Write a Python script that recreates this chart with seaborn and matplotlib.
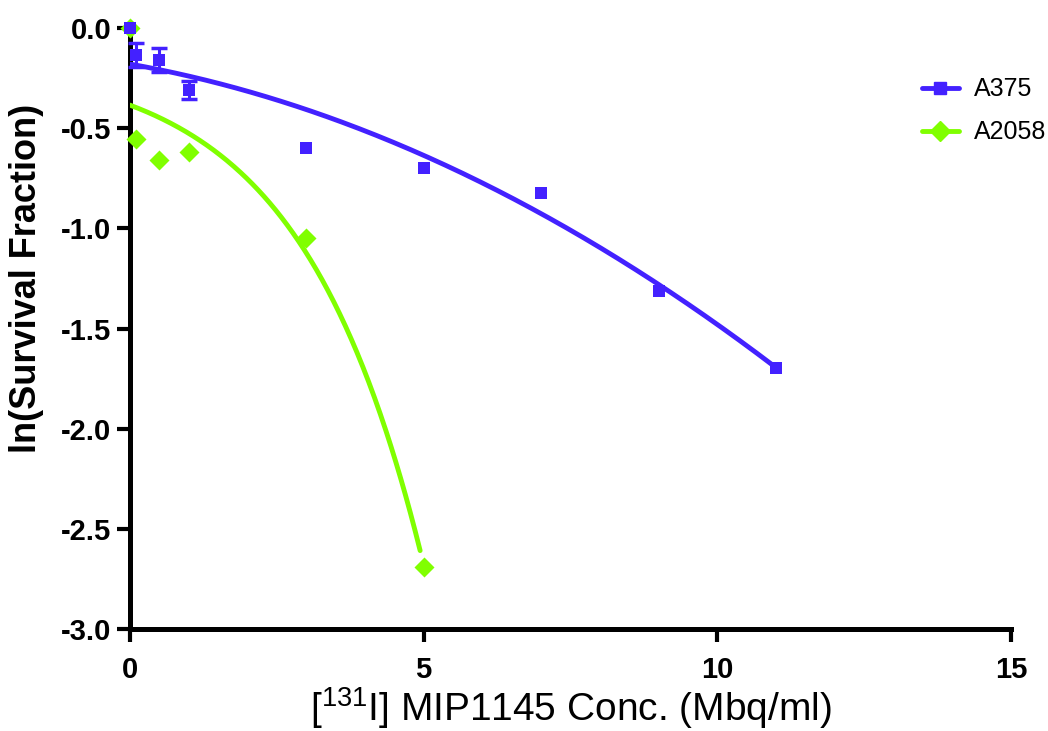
import numpy as np
import matplotlib
matplotlib.use("Agg")
import matplotlib.pyplot as plt
from matplotlib.lines import Line2D
import seaborn as sns

# Measured survival, ln(SF), per cell line
dose_a375 = [0, 0.1, 0.5, 1, 3, 5, 7, 9, 11]
ln_sf_a375 = [0.0, -0.135, -0.16, -0.31, -0.60, -0.70, -0.825, -1.315, -1.695]

# Replicated low-dose points carry error bars
err_dose_a375 = [0.1, 0.5, 1]
err_ln_sf_a375 = [-0.135, -0.16, -0.31]
err_a375 = [0.06, 0.058, 0.043]

dose_a2058 = [0, 0.1, 0.5, 1, 3, 5]
ln_sf_a2058 = [0.0, -0.552, -0.658, -0.619, -1.05, -2.69]

# Fitted model parameters
# A375: ln SF = c - alpha*D - beta*D^2
a375_fit = {"c": -0.18, "alpha": 0.0523, "beta": 0.00777}
# A2058: ln SF = c - k*(exp(r*D) - 1)
a2058_fit = {"c": -0.385, "k": 0.229, "r": 0.48}
a2058_fit_range = (0.0, 4.94)

x_ticks = [0, 5, 10, 15]
y_ticks = [0.0, -0.5, -1.0, -1.5, -2.0, -2.5, -3.0]

BLUE = "#4321FF"
GREEN = "#80FF00"

sns.set_theme(style="ticks")
plt.rcParams["font.family"] = ["Liberation Sans", "DejaVu Sans"]
plt.rcParams["mathtext.fontset"] = "custom"
plt.rcParams["mathtext.rm"] = "Liberation Sans"
plt.rcParams["mathtext.it"] = "Liberation Sans:italic"
plt.rcParams["mathtext.bf"] = "Liberation Sans:bold"
plt.rcParams["text.color"] = "black"
plt.rcParams["axes.labelcolor"] = "black"

fig = plt.figure(figsize=(10.48, 7.31), dpi=100)
ax = fig.add_axes([130 / 1048, 1 - 629 / 731, (1011 - 130) / 1048, (629 - 28) / 731])

# fitted curves
xa = np.linspace(min(dose_a375), max(dose_a375), 300)
ya = a375_fit["c"] - a375_fit["alpha"] * xa - a375_fit["beta"] * xa ** 2
xb = np.linspace(*a2058_fit_range, 300)
yb = a2058_fit["c"] - a2058_fit["k"] * (np.exp(a2058_fit["r"] * xb) - 1)

sns.lineplot(x=xa, y=ya, ax=ax, color=BLUE, lw=3.5, sort=False,
             estimator=None, zorder=3)
sns.lineplot(x=xb, y=yb, ax=ax, color=GREEN, lw=3.5, sort=False,
             estimator=None, zorder=3)

ax.errorbar(err_dose_a375, err_ln_sf_a375, yerr=err_a375, fmt="none",
            ecolor=BLUE, elinewidth=2.2, capsize=6, capthick=2.5, zorder=4,
            clip_on=False)

sns.scatterplot(x=dose_a2058, y=ln_sf_a2058, ax=ax, marker="D", s=104,
                color=GREEN, edgecolor=GREEN, linewidth=0, zorder=5,
                clip_on=False)
sns.scatterplot(x=dose_a375, y=ln_sf_a375, ax=ax, marker="s", s=78,
                color=BLUE, edgecolor=BLUE, linewidth=0, zorder=6,
                clip_on=False)

ax.set_xlim(0, 15)
ax.set_ylim(-3.0, 0.0)
ax.set_xticks(x_ticks)
ax.set_yticks(y_ticks)
ax.set_xticklabels([str(v) for v in x_ticks])
ax.set_yticklabels([f"{v:.1f}" for v in y_ticks])

for side in ("top", "right"):
    ax.spines[side].set_visible(False)
for side in ("left", "bottom"):
    ax.spines[side].set_linewidth(3.6)
    ax.spines[side].set_color("black")
    ax.spines[side].set_capstyle("projecting")

ax.tick_params(axis="both", direction="out", length=9.5, width=3.0,
               color="black", labelcolor="black")
ax.tick_params(axis="x", pad=10)
ax.tick_params(axis="y", pad=4)
for lab in ax.get_xticklabels() + ax.get_yticklabels():
    lab.set_fontsize(21)
    lab.set_fontweight("bold")

ax.set_xlabel(r"[$^{\mathrm{131}}$I] MIP1145 Conc. (Mbq/ml)", fontsize=28,
              labelpad=1)
ax.set_ylabel("ln(Survival Fraction)", fontsize=26, fontweight="bold")
ax.yaxis.set_label_coords(-0.0976, 0.584)

handles = [
    Line2D([], [], color=BLUE, lw=3.5, marker="s", markersize=8.8),
    Line2D([], [], color=GREEN, lw=3.5, marker="D", markersize=10.2),
]
leg = fig.legend(handles, ["A375", "A2058"], loc="upper left",
                 bbox_to_anchor=(899 / 1048, 1 - 55 / 731), frameon=False,
                 fontsize=18, handlelength=1.5, handletextpad=0.6,
                 labelspacing=0.75)

fig.savefig("out.png", dpi=100, facecolor="white")
